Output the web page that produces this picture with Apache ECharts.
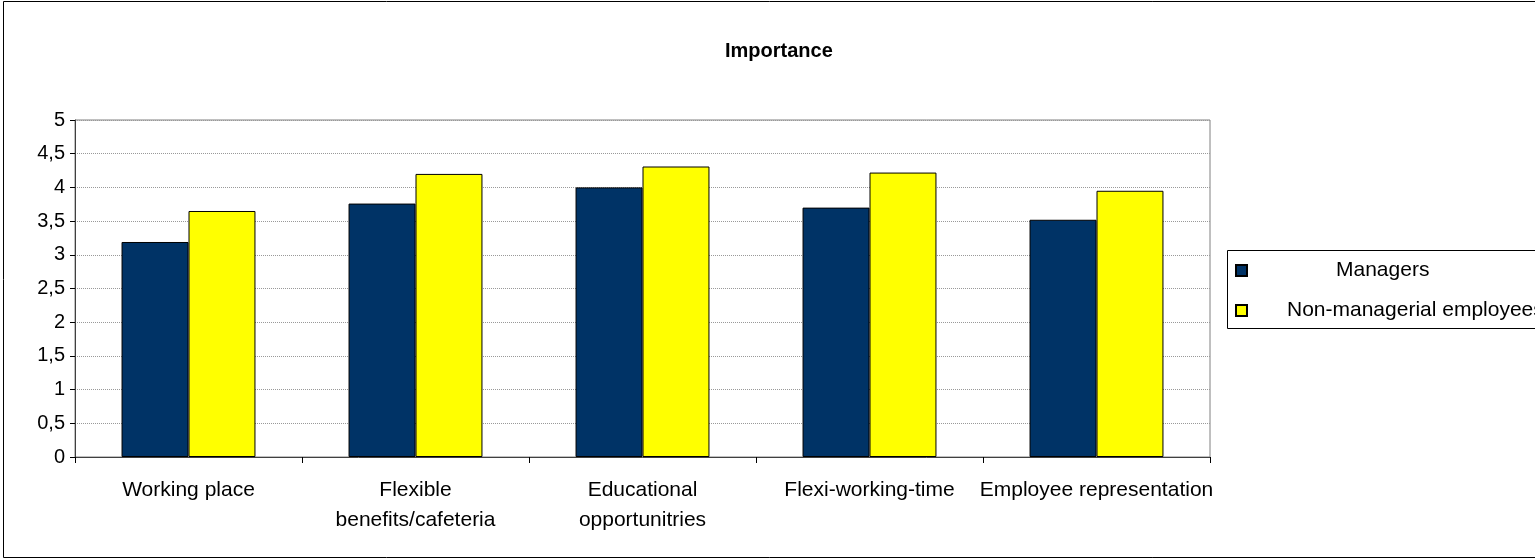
<!DOCTYPE html>
<html>
<head>
<meta charset="utf-8">
<script src="https://cdn.jsdelivr.net/npm/echarts@6/dist/echarts.min.js"></script>
<style>
html,body{margin:0;padding:0;background:#fff;}
#c{width:1535px;height:560px;}
</style>
</head>
<body>
<div id="c"></div>
<script>
const categories = ["Working place", "Flexible\nbenefits/cafeteria", "Educational\nopportunitries", "Flexi-working-time", "Employee representation"];
const managers = [3.19, 3.76, 4.0, 3.7, 3.52];
const nonManagerial = [3.65, 4.2, 4.31, 4.22, 3.95];
const seriesNames = ["Managers", "Non-managerial employees"];
const titleText = "Importance";

const chart = echarts.init(document.getElementById('c'), null, {renderer: 'canvas'});
const FONT = 'Liberation Sans, Arial, sans-serif';
chart.setOption({
  backgroundColor: '#fff',
  animation: false,
  title: {
    text: titleText, left: 720, top: 36,
    textStyle: {fontFamily: FONT, fontSize: 20, fontWeight: 'bold', color: '#000'}
  },
  graphic: [
    {type: 'rect', shape: {x: 3.5, y: 1.5, width: 1600, height: 556}, style: {fill: null, stroke: '#000', lineWidth: 1}, silent: true, z: -1},
    {type: 'rect', shape: {x: 1227.5, y: 250.5, width: 400, height: 78}, style: {fill: null, stroke: '#000', lineWidth: 1}, silent: true}
  ],
  legend: {
    orient: 'vertical', left: 1235, top: 260, padding: 0,
    itemWidth: 11, itemHeight: 11, itemGap: 19, icon: 'rect',
    data: seriesNames,
    formatter: function (n) { return n === seriesNames[0] ? '{m|' + n + '}' : '{n|' + n + '}'; },
    textStyle: {
      fontFamily: FONT, fontSize: 21, color: '#000', lineHeight: 21,
      rich: {
        m: {fontFamily: FONT, fontSize: 21, color: '#000', padding: [0, 0, 0, 84]},
        n: {fontFamily: FONT, fontSize: 21, color: '#000', padding: [0, 0, 0, 35]}
      }
    }
  },
  grid: {left: 75, right: 325, top: 120, bottom: 103, show: true, borderColor: '#808080', borderWidth: 1},
  xAxis: {
    type: 'category', data: categories,
    axisLine: {lineStyle: {color: '#404040', width: 1}},
    axisTick: {show: true, length: 6, lineStyle: {color: '#000'}},
    axisLabel: {interval: 0, margin: 18, fontFamily: FONT, fontSize: 21, color: '#000', lineHeight: 30, verticalAlign: 'top', hideOverlap: false},
    splitLine: {show: false}
  },
  yAxis: {
    type: 'value', min: 0, max: 5, interval: 0.5,
    axisLine: {show: true, lineStyle: {color: '#404040', width: 1}},
    axisTick: {show: true, length: 5, lineStyle: {color: '#000'}},
    axisLabel: {margin: 10, fontFamily: FONT, fontSize: 20, color: '#000', formatter: v => String(v).replace('.', ',')},
    splitLine: {show: true, lineStyle: {color: '#999', type: 'dotted', width: 1}}
  },
  series: [
    {name: seriesNames[0], type: 'bar', data: managers, barGap: '0%', barCategoryGap: '41%',
     itemStyle: {color: '#003366', borderColor: '#000', borderWidth: 1}},
    {name: seriesNames[1], type: 'bar', data: nonManagerial, barGap: '0%', barCategoryGap: '41%',
     itemStyle: {color: '#FFFF00', borderColor: '#000', borderWidth: 1}}
  ]
});
</script>
</body>
</html>
